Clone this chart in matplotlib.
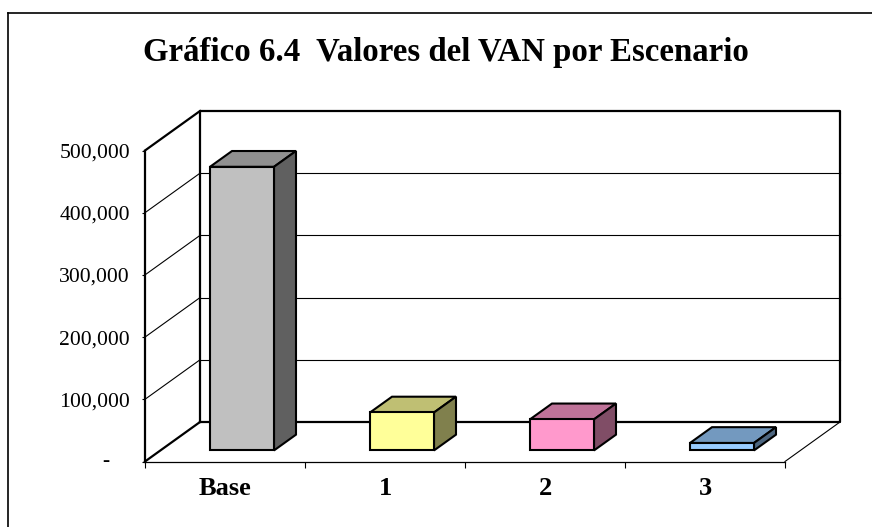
import numpy as np
import matplotlib.pyplot as plt
from matplotlib.patches import Polygon
from matplotlib.lines import Line2D
from matplotlib.ticker import FuncFormatter

plt.rcParams['font.family'] = ['Liberation Serif', 'DejaVu Serif']

# datos
escenarios = ['Base', '1', '2', '3']
van = [456000, 61000, 50000, 12000]
yticks = [0, 100000, 200000, 300000, 400000, 500000]

# colores estilo Excel: frente, techo, lado
frente = ['#C0C0C0', '#FFFF99', '#FF99CC', '#99CCFF']
techo = ['#909090', '#BFBF73', '#BF7399', '#7399BF']
lado = ['#606060', '#80804D', '#804D66', '#4D6680']

W, H = 872, 527
fig = plt.figure(figsize=(W / 100, H / 100), dpi=100)
ax = fig.add_axes([145 / W, (H - 461.5) / H, 640 / W, 311 / H])
ymax = 500000
ax.set_xlim(0, len(escenarios))
ax.set_ylim(0, ymax)

# profundidad de la perspectiva (unidades de datos)
dx = 55 / 160
dy = 39.5 * ymax / 311

# pared del fondo y pared izquierda
n = len(escenarios)
ax.plot([dx, dx, n + dx, n + dx, dx], [dy, ymax + dy, ymax + dy, dy, dy],
        color='black', lw=1.6, clip_on=False, zorder=2)
ax.plot([0, dx], [ymax, ymax + dy], color='black', lw=1.6, clip_on=False, zorder=2)
ax.plot([0, dx], [0, dy], color='black', lw=1.6, clip_on=False, zorder=2)
ax.plot([n, n + dx], [0, dy], color='black', lw=0.8, clip_on=False, zorder=2)

# lineas de cuadricula
for v in yticks[1:-1]:
    ax.plot([dx, n + dx], [v + dy, v + dy], color='black', lw=0.8, clip_on=False, zorder=1)
    ax.plot([0, dx], [v, v + dy], color='black', lw=0.8, clip_on=False, zorder=1)

# barras 3D
f0 = 0.28          # posicion de la barra dentro de la profundidad
fd = 0.40          # grosor de la barra en profundidad
ancho = 0.4
for i, v in enumerate(van):
    x0 = i + 0.31 + f0 * dx
    y0 = f0 * dy
    bx, by = fd * dx, fd * dy
    x1 = x0 + ancho
    ax.bar(x0, v, width=ancho, bottom=y0, align='edge', color=frente[i],
           edgecolor='black', lw=1.5, zorder=5, clip_on=False)
    ax.add_patch(Polygon([(x0, y0 + v), (x1, y0 + v), (x1 + bx, y0 + v + by),
                          (x0 + bx, y0 + v + by)], closed=True, facecolor=techo[i],
                         edgecolor='black', lw=1.5, zorder=4, clip_on=False))
    ax.add_patch(Polygon([(x1, y0), (x1 + bx, y0 + by), (x1 + bx, y0 + v + by),
                          (x1, y0 + v)], closed=True, facecolor=lado[i],
                         edgecolor='black', lw=1.5, zorder=4, clip_on=False))

# ejes
for s in ['top', 'right']:
    ax.spines[s].set_visible(False)
ax.spines['left'].set_linewidth(1.6)
ax.spines['bottom'].set_linewidth(0.9)
ax.set_facecolor('none')

ax.set_yticks(yticks)
ax.yaxis.set_major_formatter(FuncFormatter(lambda v, p: '' if v == 0 else f'{int(v):,}'))
ax.tick_params(axis='y', length=2.2, width=0.8, pad=8.6, labelsize=15.6)
ax.annotate('-', xy=(0, 0), xycoords=('axes fraction', 'data'), xytext=(-28, 0),
            textcoords='offset points', ha='center', va='center', fontsize=15.6)

ax.set_xticks(np.arange(n) + 0.5)
ax.set_xticklabels(escenarios, fontsize=19, fontweight='bold')
ax.set_xticks(np.arange(n + 1), minor=True)
ax.tick_params(axis='x', which='major', length=0, pad=11.5)
ax.tick_params(axis='x', which='minor', length=4, width=0.8)

# titulo y marco
fig.text(446 / W, (H - 61) / H, 'Gráfico 6.4  Valores del VAN por Escenario',
         ha='center', va='baseline', fontsize=23.7, fontweight='bold')
fig.add_artist(Line2D([8 / W, 8 / W], [0, (H - 13) / H], transform=fig.transFigure,
                      color='black', lw=1.2))
fig.add_artist(Line2D([8 / W, 1], [(H - 13) / H, (H - 13) / H], transform=fig.transFigure,
                      color='black', lw=1.2))

fig.savefig('out.png', dpi=100)
